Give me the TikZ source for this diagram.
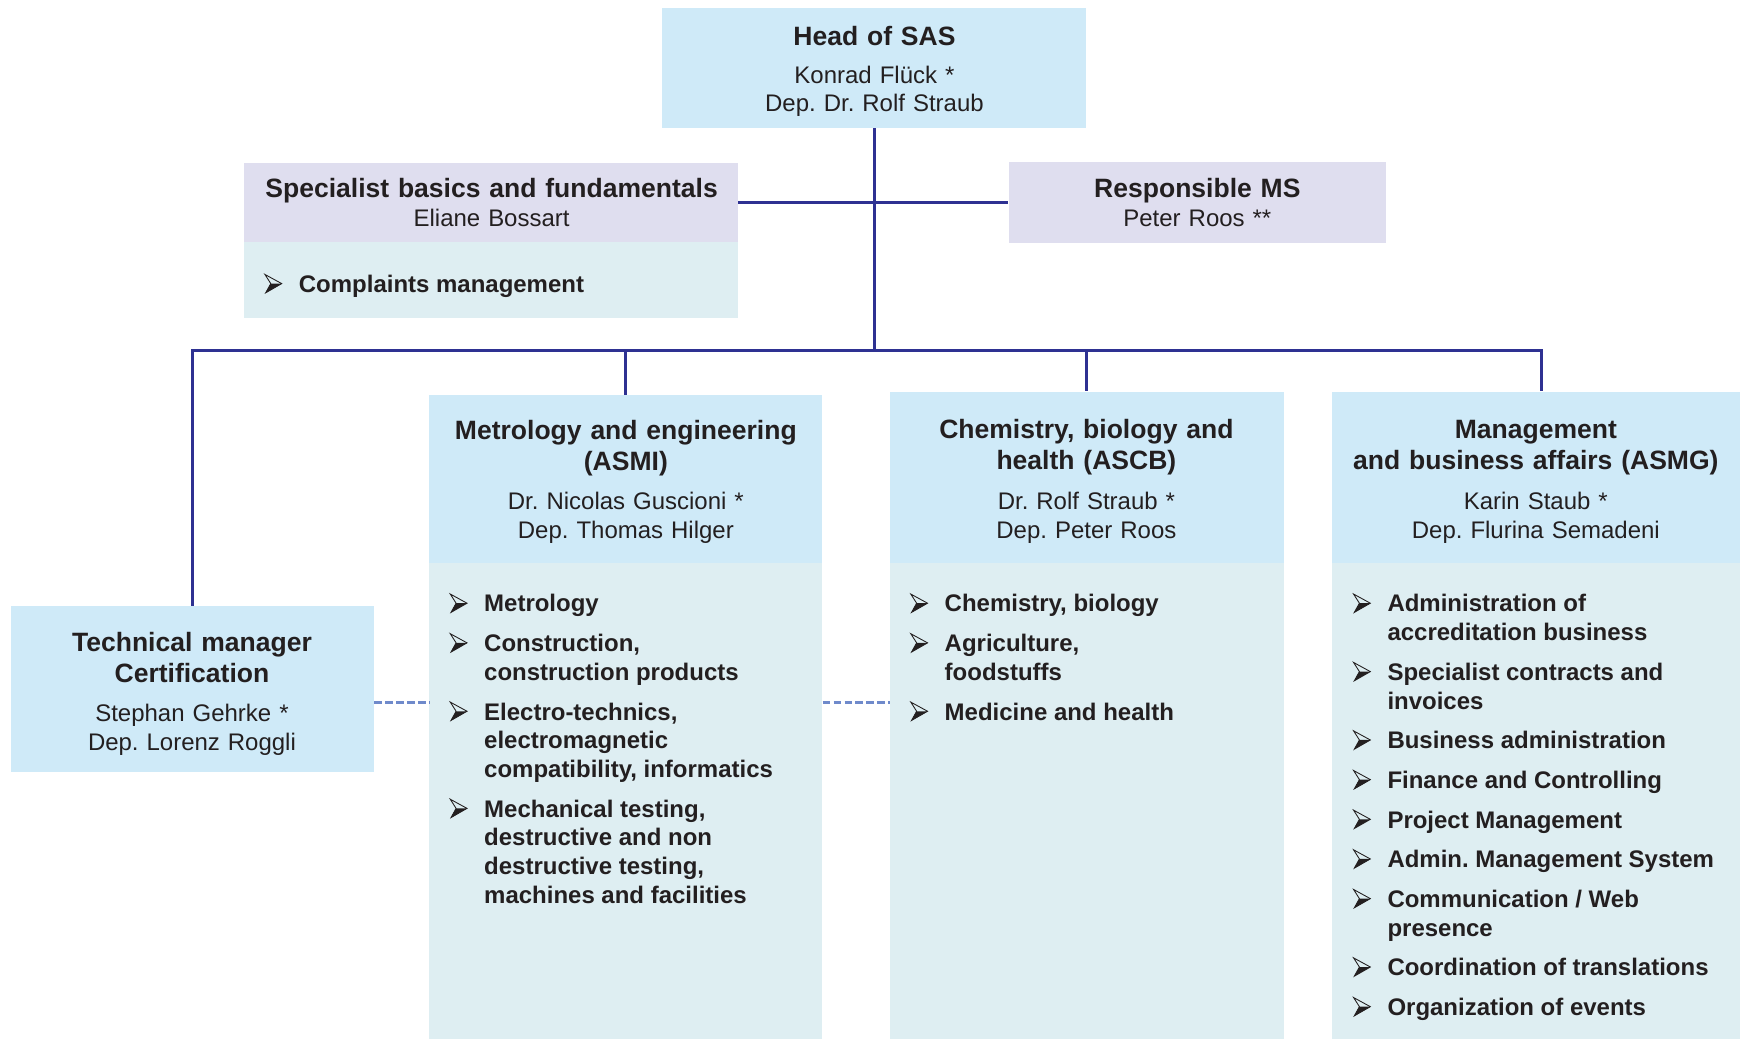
\documentclass[tikz,border=0pt]{standalone}
\usepackage{fontspec}
\setmainfont{Liberation Sans}
\usetikzlibrary{fit}
\frenchspacing

\definecolor{hblue}{RGB}{207,234,248}
\definecolor{lav}{RGB}{223,222,239}
\definecolor{pale}{RGB}{222,238,242}
\definecolor{lnk}{RGB}{46,49,146}
\definecolor{dsh}{RGB}{111,138,203}
\definecolor{txt}{RGB}{35,31,32}

\newcommand{\hfont}{\fontsize{13.6}{15.9}\selectfont\bfseries}
\newcommand{\nfont}{\fontsize{12.3}{14.74}\selectfont}
\newcommand{\ifont}{\fontsize{12.3}{14.74}\selectfont\bfseries}
% arrowhead bullet
\newcommand{\bul}{\tikz[x=1pt, y=1pt, baseline=0pt]{%
\draw[txt, line width=0.45pt, line join=miter] (0,9.2) -- (8.6,4.5) -- (0.4,-0.2) -- (3,4.5) -- cycle;
\fill[txt] (3,4.5) -- (8.6,4.5) -- (0.4,-0.2) -- cycle;}}

\begin{document}
\begin{tikzpicture}[x=0.02cm, y=-0.02cm]
\tikzstyle{every node} = [inner sep=0, text=txt]
\tikzstyle{bluebox} = [fill=hblue]
\tikzstyle{lavbox} = [fill=lav]
\tikzstyle{palebox} = [fill=pale]
\tikzstyle{title} = [font=\hfont, align=center, anchor=base, text width=7cm]
\tikzstyle{names} = [font=\nfont, align=center, anchor=base, text width=7cm]
\tikzstyle{items} = [font=\ifont, anchor=north west]
\tikzstyle{link} = [draw=lnk, line width=1.5pt]
\tikzstyle{dotline} = [draw=dsh, line width=1.7pt, dash pattern=on 4pt off 1.6pt]

\useasboundingbox (0,0) rectangle (1568,936);

% boxes
\node[bluebox, fit={(597,7) (979,115)}] (head) {};
\node[lavbox, fit={(220,147) (665,218)}] (spec) {};
\node[palebox, fit={(220,218) (665,287)}] (specb) {};
\node[lavbox, fit={(909,146) (1249,219)}] (resp) {};
\node[bluebox, fit={(10,546) (337,696)}] (tech) {};
\node[bluebox, fit={(387,356) (741,507)}] (asmi) {};
\node[palebox, fit={(387,507) (741,936)}] (asmib) {};
\node[bluebox, fit={(802,353) (1157,507)}] (ascb) {};
\node[palebox, fit={(802,507) (1157,936)}] (ascbb) {};
\node[bluebox, fit={(1200,353) (1568,507)}] (asmg) {};
\node[palebox, fit={(1200,507) (1568,936)}] (asmgb) {};

% texts
\node[title] at (788,41) {Head of SAS};
\node[names] at (788,75) {Konrad Flück *\\Dep. Dr. Rolf Straub};
\node[title, text width=8.6cm] at (443,178) {Specialist basics and fundamentals};
\node[names] at (443,204) {Eliane Bossart};
\node[title] at (1079,178) {Responsible MS};
\node[names] at (1079,204) {Peter Roos **};
\node[items] at (238,245) {\begin{tabular}{@{}p{0.62cm}@{}l@{}}
\bul & Complaints management
\end{tabular}};

\node[title, text width=6.4cm] at (173,587) {Technical manager\\Certification};
\node[names, text width=6.4cm] at (173,650) {Stephan Gehrke *\\Dep. Lorenz Roggli};

\node[title] at (564,396) {Metrology and engineering\\(ASMI)};
\node[names] at (564,459) {Dr. Nicolas Guscioni *\\Dep. Thomas Hilger};
\node[items] at (405,533) {\begin{tabular}{@{}p{0.62cm}@{}l@{}}
\bul & Metrology\\[5.6pt]
\bul & Construction,\\ & construction products\\[5.6pt]
\bul & Electro-technics,\\ & electromagnetic\\ & compatibility, informatics\\[5.6pt]
\bul & Mechanical testing,\\ & destructive and non\\ & destructive testing,\\ & machines and facilities
\end{tabular}};

\node[title] at (979,395) {Chemistry, biology and\\health (ASCB)};
\node[names] at (979,459) {Dr. Rolf Straub *\\Dep. Peter Roos};
\node[items] at (820,533) {\begin{tabular}{@{}p{0.62cm}@{}l@{}}
\bul & Chemistry, biology\\[5.6pt]
\bul & Agriculture,\\ & foodstuffs\\[5.6pt]
\bul & Medicine and health
\end{tabular}};

\node[title, text width=7.3cm] at (1384,395) {Management\\and business affairs (ASMG)};
\node[names] at (1384,459) {Karin Staub *\\Dep. Flurina Semadeni};
\node[items] at (1219,533) {\begin{tabular}{@{}p{0.62cm}@{}l@{}}
\bul & Administration of\\ & accreditation business\\[5.6pt]
\bul & Specialist contracts and\\ & invoices\\[5.6pt]
\bul & Business administration\\[5.6pt]
\bul & Finance and Controlling\\[5.6pt]
\bul & Project Management\\[5.6pt]
\bul & Admin. Management System\\[5.6pt]
\bul & Communication / Web\\ & presence\\[5.6pt]
\bul & Coordination of translations\\[5.6pt]
\bul & Organization of events
\end{tabular}};

% connectors
\coordinate (bar) at (788,316);
\coordinate (dl) at (0,633);
\draw[link] (head.south) -- (head.south |- bar);
\draw[link] (spec.east) -- (resp.west);
\draw[link] (tech.north) |- ([xshift=0.1cm]asmg.north |- bar) -- ([xshift=0.1cm]asmg.north);
\foreach \to in {asmi, ascb}
\draw[link] (\to.north |- bar) -- (\to.north);
\draw[dotline] (tech.east |- dl) -- (asmib.west |- dl);
\draw[dotline] (asmib.east |- dl) -- (ascbb.west |- dl);
\end{tikzpicture}
\end{document}
